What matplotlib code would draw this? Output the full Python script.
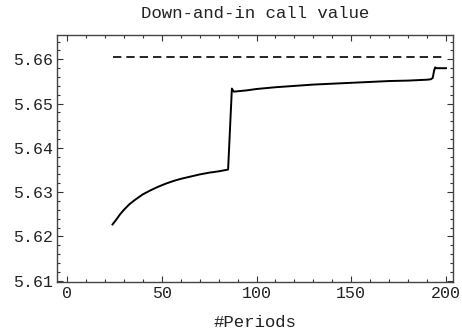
import matplotlib
matplotlib.use("Agg")
import matplotlib.pyplot as plt
from matplotlib.ticker import MultipleLocator, FormatStrFormatter

# Data
periods = [24, 26, 28, 30, 33, 36, 40, 44, 48, 52, 56, 60, 65, 70, 75, 80, 85,
           87, 88, 95, 100, 110, 120, 130, 140, 150, 160, 170, 180,
           190, 192, 193, 193.7, 194.3, 195, 200]
values = [5.6227, 5.6238, 5.6250, 5.6260, 5.6273, 5.6283, 5.6295, 5.6304,
          5.6312, 5.6319, 5.6325, 5.6330, 5.6335, 5.6340, 5.6344, 5.6347,
          5.6351,
          5.6534, 5.6527, 5.6530, 5.6533, 5.6537, 5.6540, 5.6543,
          5.6545, 5.6547, 5.6549, 5.6551, 5.6552,
          5.6554, 5.6555, 5.6558, 5.6574, 5.6582, 5.6580, 5.6580]
ref_periods = [24, 199]
ref_value = 5.6606

title = "Down-and-in call value"
xlabel = "#Periods"

fig = plt.figure(figsize=(4.62, 3.35), dpi=100)
ax = fig.add_axes([57/462, 1-282/335, (453-57)/462, (282-35)/335])

ax.plot(periods, values, color="black", lw=1.4, solid_joinstyle="round")
ax.plot(ref_periods, [ref_value, ref_value], color="black", lw=1.2,
        dashes=(5, 3))

ax.set_xlim(-5.3, 203.7)
ax.set_ylim(5.6097, 5.6655)

ax.xaxis.set_major_locator(MultipleLocator(50))
ax.xaxis.set_minor_locator(MultipleLocator(10))
ax.yaxis.set_major_locator(MultipleLocator(0.01))
ax.yaxis.set_minor_locator(MultipleLocator(0.002))
ax.yaxis.set_major_formatter(FormatStrFormatter("%.2f"))

font = "Liberation Mono"
ax.tick_params(which="both", direction="in", top=True, right=True,
               colors="#333333", labelcolor="#222222", width=0.8)
ax.tick_params(which="major", length=4.5, labelsize=12, pad=3)
ax.tick_params(which="minor", length=2.5)
for lab in ax.get_xticklabels() + ax.get_yticklabels():
    lab.set_fontfamily(font)
for s in ax.spines.values():
    s.set_color("#444444")
    s.set_linewidth(1.0)

ax.set_title(title, fontfamily=font, fontsize=12.5, color="#222222", pad=12)
ax.set_xlabel(xlabel, fontfamily=font, fontsize=12.5, color="#222222",
              labelpad=10)

fig.savefig("out.png", dpi=100)
